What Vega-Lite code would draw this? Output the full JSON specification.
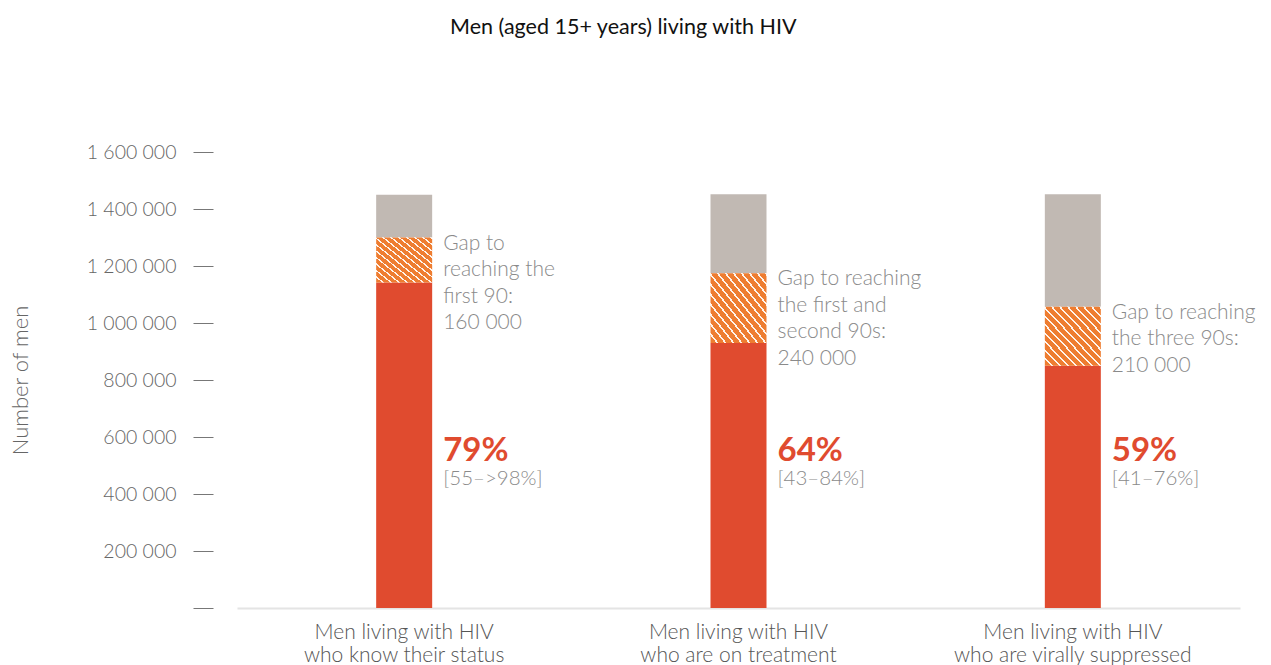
{
  "$schema": "https://vega.github.io/schema/vega-lite/v6.json",
  "width": 1003,
  "height": 456,
  "autosize": {"type": "none"},
  "padding": {"left": 237, "top": 152, "right": 31, "bottom": 57},
  "background": "white",
  "title": {
    "text": "Men (aged 15+ years) living with HIV",
    "anchor": "middle",
    "frame": "bounds",
    "font": "Lato",
    "fontSize": 21.5,
    "fontWeight": "normal",
    "color": "#111111",
    "offset": 104,
    "dx": -9
  },
  "config": {
    "view": {"stroke": null},
    "text": {"font": "Lato"}
  },
  "datasets": {
    "segments": [
      {"cat": "Men living with HIV|who know their status", "seg": "achieved", "lo": 0, "hi": 1142000},
      {"cat": "Men living with HIV|who know their status", "seg": "gap", "lo": 1142000, "hi": 1300000},
      {"cat": "Men living with HIV|who know their status", "seg": "rest", "lo": 1300000, "hi": 1450000},
      {"cat": "Men living with HIV|who are on treatment", "seg": "achieved", "lo": 0, "hi": 930000},
      {"cat": "Men living with HIV|who are on treatment", "seg": "gap", "lo": 930000, "hi": 1175000},
      {"cat": "Men living with HIV|who are on treatment", "seg": "rest", "lo": 1175000, "hi": 1452000},
      {"cat": "Men living with HIV|who are virally suppressed", "seg": "achieved", "lo": 0, "hi": 850000},
      {"cat": "Men living with HIV|who are virally suppressed", "seg": "gap", "lo": 850000, "hi": 1057000},
      {"cat": "Men living with HIV|who are virally suppressed", "seg": "rest", "lo": 1057000, "hi": 1452000}
    ],
    "notes": [
      {"cat": "Men living with HIV|who know their status", "top": 1300000, "gap": "Gap to\nreaching the\nfirst 90:\n160 000", "pct": "79%", "ci": "[55–>98%]"},
      {"cat": "Men living with HIV|who are on treatment", "top": 1175000, "gap": "Gap to reaching\nthe first and\nsecond 90s:\n240 000", "pct": "64%", "ci": "[43–84%]"},
      {"cat": "Men living with HIV|who are virally suppressed", "top": 1057000, "gap": "Gap to reaching\nthe three 90s:\n210 000", "pct": "59%", "ci": "[41–76%]"}
    ]
  },
  "encoding": {
    "x": {
      "field": "cat",
      "type": "nominal",
      "sort": null,
      "scale": {"paddingInner": 0, "paddingOuter": 0},
      "axis": {
        "title": null,
        "labelAngle": 0,
        "ticks": false,
        "domain": true,
        "domainColor": "#e4e4e4",
        "domainWidth": 2,
        "labelFont": "Lato",
        "labelFontWeight": 300,
        "labelFontSize": 21,
        "labelColor": "#555555",
        "labelLineHeight": 23,
        "labelPadding": 13,
        "labelLimit": 0,
        "labelExpr": "split(datum.label, '|')"
      }
    }
  },
  "layer": [
    {
      "data": {"name": "segments"},
      "transform": [{"filter": "datum.seg !== 'gap'"}],
      "mark": {"type": "bar", "width": 56},
      "encoding": {
        "y": {
          "field": "lo",
          "type": "quantitative",
          "scale": {"domain": [0, 1600000], "nice": false},
          "axis": {
            "title": "Number of men",
            "titleFont": "Lato",
            "titleFontWeight": 300,
            "titleFontSize": 22,
            "titleColor": "#666666",
            "titleAngle": -90,
            "titleX": -186,
            "titleY": 228,
            "titleAlign": "center",
            "titleBaseline": "alphabetic",
            "values": [0, 200000, 400000, 600000, 800000, 1000000, 1200000, 1400000, 1600000],
            "labelExpr": "datum.value === 0 ? '' : replace(format(datum.value, ','), /,/g, ' ')",
            "labelFont": "Lato",
            "labelFontWeight": 300,
            "labelFontSize": 19.5,
            "labelColor": "#666666",
            "labelPadding": 17,
            "offset": 24,
            "tickSize": 20,
            "tickColor": "#777777",
            "tickWidth": 1,
            "domain": false,
            "grid": false
          }
        },
        "y2": {"field": "hi"},
        "color": {
          "field": "seg",
          "type": "nominal",
          "scale": {"domain": ["achieved", "rest"], "range": ["#E04B2F", "#C1B9B3"]},
          "legend": null
        }
      }
    },
    {
      "data": {"name": "segments"},
      "transform": [{"filter": "datum.seg === 'gap'"}],
      "mark": {
        "type": "bar",
        "width": 56,
        "fill": {
          "gradient": "linear",
          "x1": 0, "y1": 1, "x2": 1, "y2": 0,
          "stops": [
            {"offset": 0, "color": "#EE7D31"}, {"offset": 0.0536, "color": "#EE7D31"}, {"offset": 0.0536, "color": "#FFF4EC"}, {"offset": 0.0714, "color": "#FFF4EC"},
            {"offset": 0.0714, "color": "#EE7D31"}, {"offset": 0.1250, "color": "#EE7D31"}, {"offset": 0.1250, "color": "#FFF4EC"}, {"offset": 0.1429, "color": "#FFF4EC"},
            {"offset": 0.1429, "color": "#EE7D31"}, {"offset": 0.1964, "color": "#EE7D31"}, {"offset": 0.1964, "color": "#FFF4EC"}, {"offset": 0.2143, "color": "#FFF4EC"},
            {"offset": 0.2143, "color": "#EE7D31"}, {"offset": 0.2679, "color": "#EE7D31"}, {"offset": 0.2679, "color": "#FFF4EC"}, {"offset": 0.2857, "color": "#FFF4EC"},
            {"offset": 0.2857, "color": "#EE7D31"}, {"offset": 0.3393, "color": "#EE7D31"}, {"offset": 0.3393, "color": "#FFF4EC"}, {"offset": 0.3571, "color": "#FFF4EC"},
            {"offset": 0.3571, "color": "#EE7D31"}, {"offset": 0.4107, "color": "#EE7D31"}, {"offset": 0.4107, "color": "#FFF4EC"}, {"offset": 0.4286, "color": "#FFF4EC"},
            {"offset": 0.4286, "color": "#EE7D31"}, {"offset": 0.4821, "color": "#EE7D31"}, {"offset": 0.4821, "color": "#FFF4EC"}, {"offset": 0.5000, "color": "#FFF4EC"},
            {"offset": 0.5000, "color": "#EE7D31"}, {"offset": 0.5536, "color": "#EE7D31"}, {"offset": 0.5536, "color": "#FFF4EC"}, {"offset": 0.5714, "color": "#FFF4EC"},
            {"offset": 0.5714, "color": "#EE7D31"}, {"offset": 0.6250, "color": "#EE7D31"}, {"offset": 0.6250, "color": "#FFF4EC"}, {"offset": 0.6429, "color": "#FFF4EC"},
            {"offset": 0.6429, "color": "#EE7D31"}, {"offset": 0.6964, "color": "#EE7D31"}, {"offset": 0.6964, "color": "#FFF4EC"}, {"offset": 0.7143, "color": "#FFF4EC"},
            {"offset": 0.7143, "color": "#EE7D31"}, {"offset": 0.7679, "color": "#EE7D31"}, {"offset": 0.7679, "color": "#FFF4EC"}, {"offset": 0.7857, "color": "#FFF4EC"},
            {"offset": 0.7857, "color": "#EE7D31"}, {"offset": 0.8393, "color": "#EE7D31"}, {"offset": 0.8393, "color": "#FFF4EC"}, {"offset": 0.8571, "color": "#FFF4EC"},
            {"offset": 0.8571, "color": "#EE7D31"}, {"offset": 0.9107, "color": "#EE7D31"}, {"offset": 0.9107, "color": "#FFF4EC"}, {"offset": 0.9286, "color": "#FFF4EC"},
            {"offset": 0.9286, "color": "#EE7D31"}, {"offset": 0.9821, "color": "#EE7D31"}, {"offset": 0.9821, "color": "#FFF4EC"}, {"offset": 1, "color": "#FFF4EC"}
          ]
        }
      },
      "encoding": {
        "y": {"field": "lo", "type": "quantitative"},
        "y2": {"field": "hi"}
      }
    },
    {
      "data": {"name": "notes"},
      "mark": {
        "type": "text",
        "align": "left",
        "baseline": "alphabetic",
        "dx": 39,
        "dy": 12,
        "fontSize": 21,
        "fontWeight": 300,
        "color": "#8a8a8a",
        "lineBreak": "\n",
        "lineHeight": 26.5
      },
      "encoding": {
        "y": {"field": "top", "type": "quantitative"},
        "text": {"field": "gap", "type": "nominal"}
      }
    },
    {
      "data": {"name": "notes"},
      "mark": {
        "type": "text",
        "align": "left",
        "baseline": "alphabetic",
        "dx": 39,
        "fontSize": 33,
        "fontWeight": "bold",
        "color": "#E04B2F"
      },
      "encoding": {
        "y": {"datum": 516000, "type": "quantitative"},
        "text": {"field": "pct", "type": "nominal"}
      }
    },
    {
      "data": {"name": "notes"},
      "mark": {
        "type": "text",
        "align": "left",
        "baseline": "alphabetic",
        "dx": 39,
        "dy": 24,
        "fontSize": 20.5,
        "fontWeight": 300,
        "color": "#8a8a8a"
      },
      "encoding": {
        "y": {"datum": 516000, "type": "quantitative"},
        "text": {"field": "ci", "type": "nominal"}
      }
    }
  ]
}
